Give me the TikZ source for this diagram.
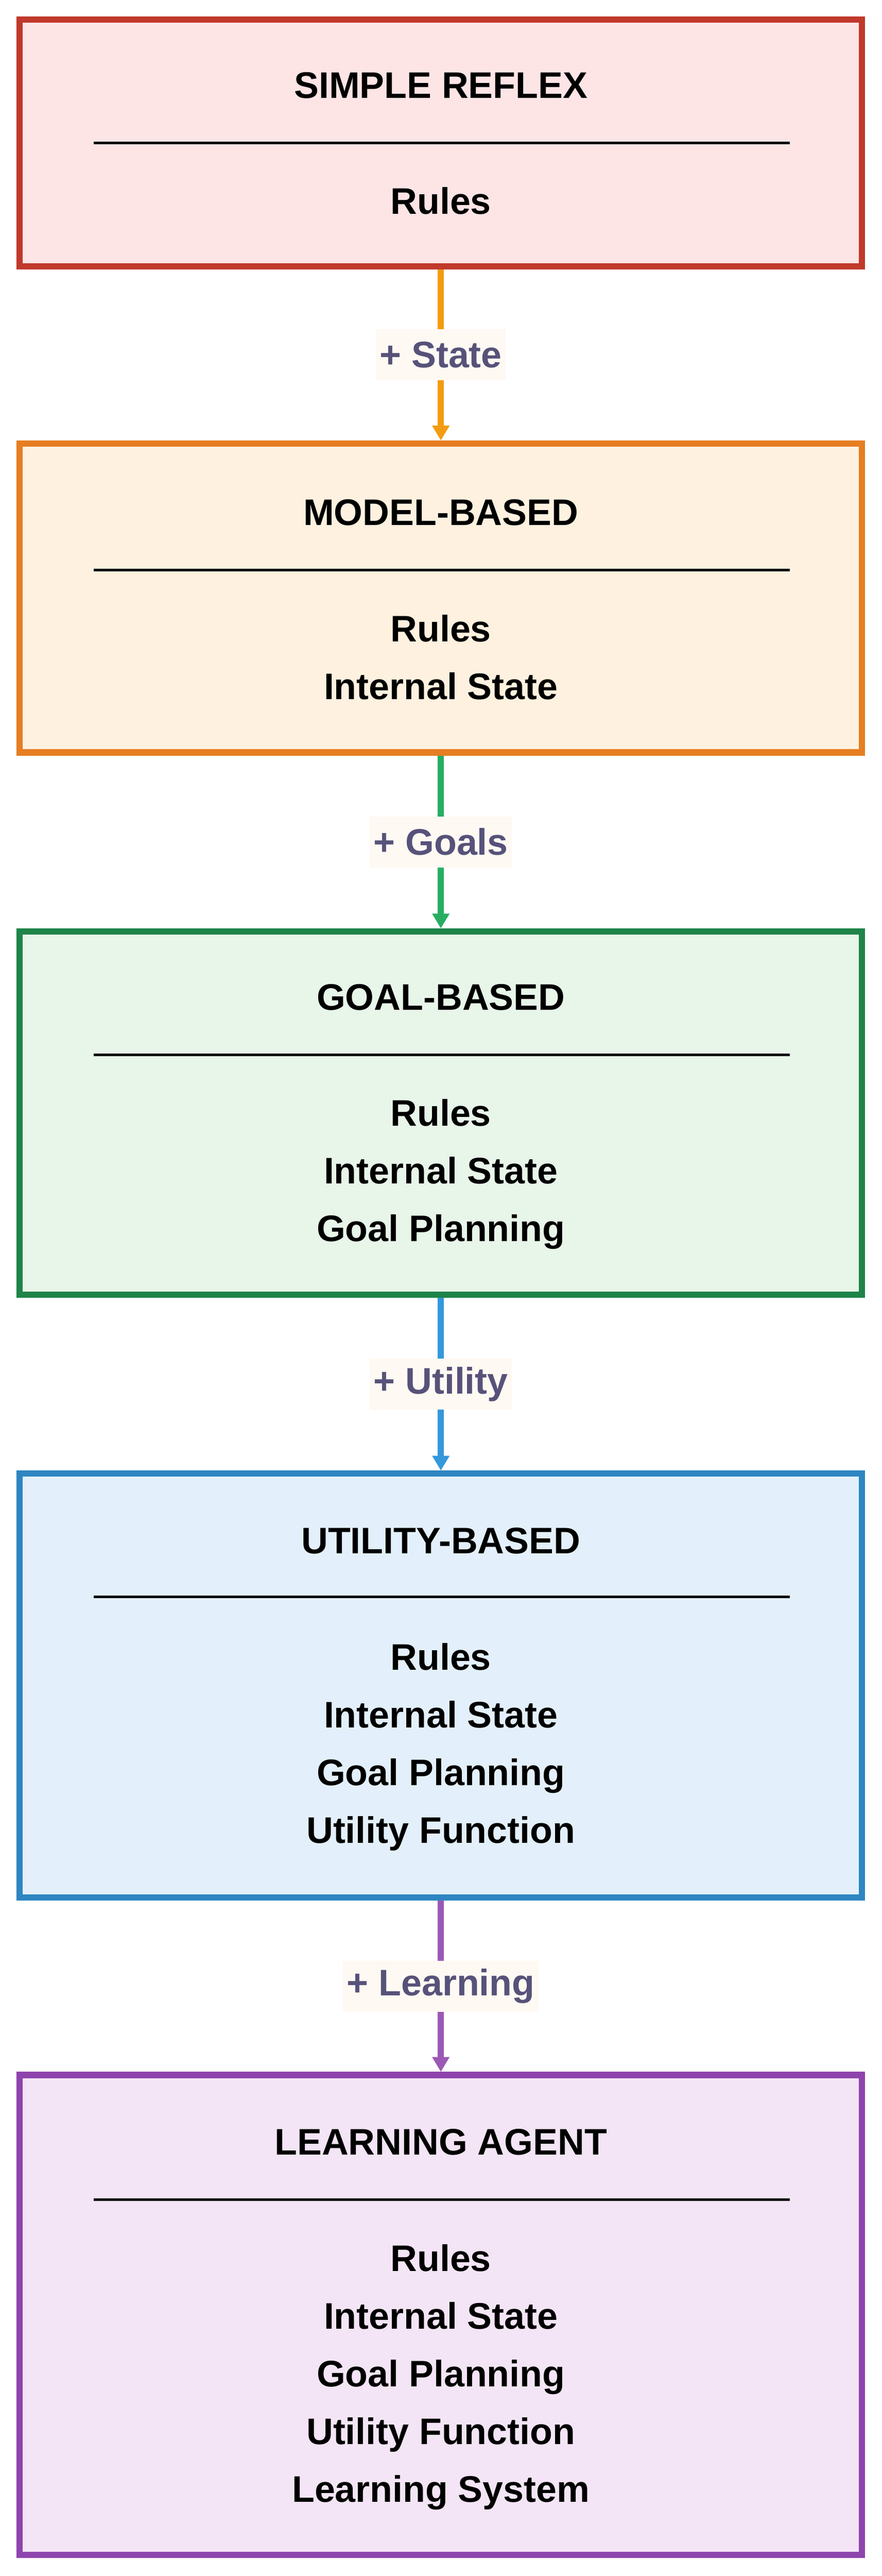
\documentclass[tikz,border=0pt]{standalone}
\usepackage{fontspec}
\setmainfont{Liberation Sans}
\usetikzlibrary{arrows.meta,positioning}
\definecolor{redline}{HTML}{C0392B}\definecolor{redfill}{HTML}{FDE4E5}
\definecolor{orgline}{HTML}{E67E22}\definecolor{orgfill}{HTML}{FEF1DF}
\definecolor{grnline}{HTML}{1E8449}\definecolor{grnfill}{HTML}{E8F5E9}
\definecolor{bluline}{HTML}{2E86C1}\definecolor{blufill}{HTML}{E3F0FB}
\definecolor{purline}{HTML}{8E44AD}\definecolor{purfill}{HTML}{F3E5F5}
\definecolor{orgarrow}{HTML}{F39C12}\definecolor{grnarrow}{HTML}{27AE60}
\definecolor{bluarrow}{HTML}{3498DB}\definecolor{purarrow}{HTML}{9B59B6}
\definecolor{labeltext}{HTML}{575279}\definecolor{labelfill}{HTML}{FFF9F3}
\begin{document}
\begin{tikzpicture}[
    agent/.style={rectangle, draw, line width=5.4pt, minimum width=25.65cm, inner sep=0pt},
    title/.style={font=\fontsize{32}{38}\selectfont\bfseries, inner sep=0pt},
    items/.style={font=\fontsize{32}{50}\selectfont\bfseries, align=center, inner sep=0pt, anchor=north},
    rule/.style={line width=2.2pt},
    arrow/.style={line width=5.5pt, -{Triangle[width=0.5cm,length=0.45cm]}},
    addon/.style={fill=labelfill, text=labeltext, font=\fontsize{32}{38}\selectfont\bfseries, minimum width=3.1cm, minimum height=1.55cm}
]
\useasboundingbox (0,0) rectangle (26.85,-78.4);

% Agent boxes
\node[agent, draw=redline, fill=redfill, minimum height=7.5cm] (reflex) at (13.425,-4.35) {};
\node[agent, draw=orgline, fill=orgfill, minimum height=9.4cm] (model) at (13.425,-18.2) {};
\node[agent, draw=grnline, fill=grnfill, minimum height=11.05cm] (goal) at (13.425,-33.875) {};
\node[agent, draw=bluline, fill=blufill, minimum height=12.9cm] (utility) at (13.425,-51.3) {};
\node[agent, draw=purline, fill=purfill, minimum height=14.6cm] (learning) at (13.425,-70.45) {};

% Simple reflex
\node[title] (reflextitle) at (13.425,-2.6) {SIMPLE REFLEX};
\coordinate (reflexl) at (2.85,-4.35); \coordinate (reflexr) at (24.05,-4.35);
\draw[rule] (reflexl) -- (reflexr);
\node[items] (reflexitems) at (13.425,-5.7) {Rules};

% Model-based
\node[title] (modeltitle) at (13.425,-15.6) {MODEL-BASED};
\coordinate (modell) at (2.85,-17.35); \coordinate (modelr) at (24.05,-17.35);
\draw[rule] (modell) -- (modelr);
\node[items] (modelitems) at (13.425,-18.7) {Rules\\Internal State};

% Goal-based
\node[title] (goaltitle) at (13.425,-30.35) {GOAL-BASED};
\coordinate (goall) at (2.85,-32.1); \coordinate (goalr) at (24.05,-32.1);
\draw[rule] (goall) -- (goalr);
\node[items] (goalitems) at (13.425,-33.45) {Rules\\Internal State\\Goal Planning};

% Utility-based
\node[title] (utilitytitle) at (13.425,-46.9) {UTILITY-BASED};
\coordinate (utilityl) at (2.85,-48.6); \coordinate (utilityr) at (24.05,-48.6);
\draw[rule] (utilityl) -- (utilityr);
\node[items] (utilityitems) at (13.425,-50.0) {Rules\\Internal State\\Goal Planning\\Utility Function};

% Learning agent
\node[title] (learningtitle) at (13.425,-65.2) {LEARNING AGENT};
\coordinate (learningl) at (2.85,-66.95); \coordinate (learningr) at (24.05,-66.95);
\draw[rule] (learningl) -- (learningr);
\node[items] (learningitems) at (13.425,-68.3) {Rules\\Internal State\\Goal Planning\\Utility Function\\Learning System};

% Arrows
\draw[arrow, orgarrow] (reflex.south) -- node[addon] {+ State} (model.north);
\draw[arrow, grnarrow] (model.south) -- node[addon] {+ Goals} (goal.north);
\draw[arrow, bluarrow] (goal.south) -- node[addon] {+ Utility} (utility.north);
\draw[arrow, purarrow] (utility.south) -- node[addon] {+ Learning} (learning.north);

\end{tikzpicture}
\end{document}
